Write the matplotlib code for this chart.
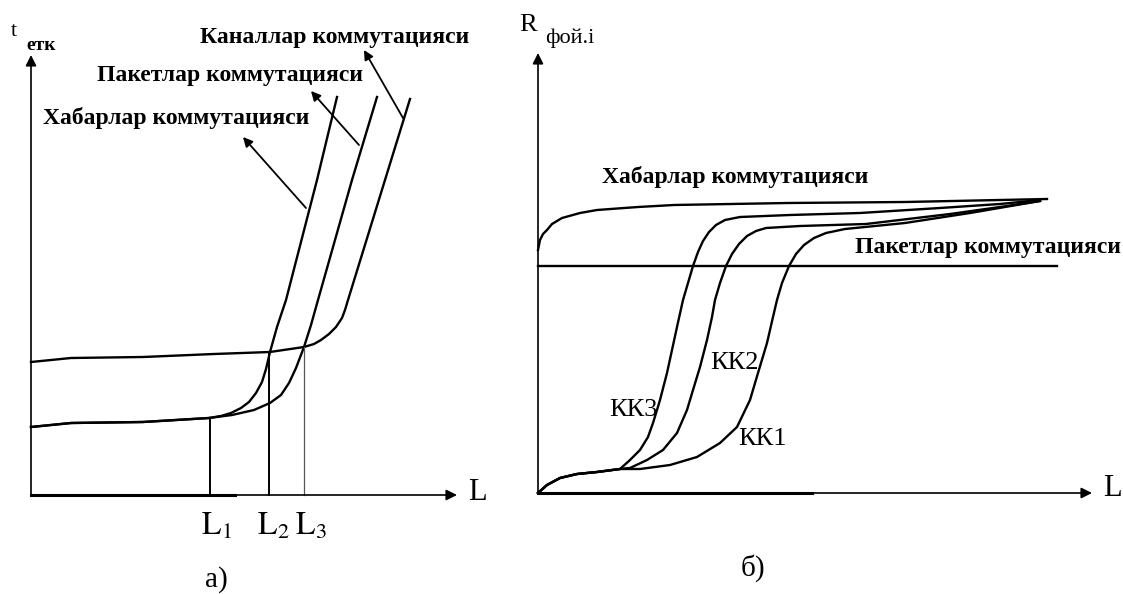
import matplotlib
matplotlib.use("Agg")
import matplotlib.pyplot as plt

plt.rcParams['mathtext.fontset'] = 'stix'

# ---- panel a): delay vs load (L, t) ----
kanal_L = [0, 40, 112, 183, 239, 273, 283, 290, 298, 305, 311, 314, 317, 354, 379]
kanal_t = [133, 137, 138, 141, 143, 148, 151, 155, 161, 168, 177, 185, 195, 315, 396]

paket_L = [0, 40, 112, 178, 201, 223, 239, 250, 258, 265, 273, 280, 287, 321, 346]
paket_t = [68, 72, 73, 77, 80, 85, 92, 100, 112, 127, 148, 170, 195, 315, 398]

xabar_L = [0, 40, 112, 178, 190, 200, 210, 218, 225, 231, 235, 239, 246, 255, 286, 306]
xabar_t = [68, 72, 73, 77, 79, 82, 87, 93, 102, 113, 126, 143, 168, 195, 315, 398]

marks_L = [179, 238, 273]
marks_t = [77, 143, 148]
marks_lbl = [r'$\mathrm{L}_1$', r'$\mathrm{L}_2$', r'$\mathrm{L}_3$']

# ---- panel б): R vs L ----
xab_R_L = [0, 2, 5, 9, 14, 24, 42, 59, 100, 136, 250, 367, 509]
xab_R_v = [243, 253, 259, 263, 269, 275, 280, 283, 286, 288, 290, 291, 294]

pak_R_L = [0, 519]
pak_R_v = [227, 227]

base_L = [0, 9, 22, 39, 59, 82]
base_v = [0, 8, 15, 19, 21, 24]

kk3_L = base_L + [92, 102, 110, 115, 119, 122, 129, 134, 139, 145, 150, 155, 160, 165, 171, 178, 187, 202, 252, 322, 402, 462, 502]
kk3_v = base_v + [33, 43, 56, 70, 83, 93, 120, 143, 166, 193, 210, 227, 241, 252, 261, 268, 273, 276, 278, 280, 285, 289, 293]

kk2_L = base_L + [92, 109, 125, 139, 149, 155, 162, 169, 174, 177, 182, 188, 194, 201, 209, 218, 228, 262, 328, 412, 462, 502]
kk2_v = base_v + [25, 33, 43, 60, 83, 103, 126, 153, 176, 193, 210, 227, 239, 249, 257, 262, 265, 267, 269, 279, 286, 292]

kk1_L = base_L + [102, 132, 159, 182, 199, 212, 220, 229, 235, 239, 244, 251, 258, 266, 276, 288, 307, 367, 432, 502]
kk1_v = base_v + [24, 28, 36, 50, 66, 93, 120, 150, 176, 193, 210, 227, 239, 248, 255, 260, 264, 270, 280, 292]

kk_lbl = ['КК3', 'КК2', 'КК1']

fig = plt.figure(figsize=(11.23, 5.94), dpi=100)
W, H = 1123, 594

serif = 'Liberation Serif'
lw_c = 1.7
arr = dict(arrowstyle='-|>', color='black', lw=1.2, mutation_scale=16, shrinkA=0, shrinkB=0)
arr2 = dict(arrowstyle='-|>', color='black', lw=1.3, mutation_scale=14, shrinkA=0, shrinkB=0)
bold_kw = dict(fontsize=17, ha='center', va='center', family=serif, weight='bold')

# left panel, origin at pixel (31, 495)
ax1 = fig.add_axes([0, 0, 520 / W, 1])
ax1.set_xlim(-31, 489)
ax1.set_ylim(-99, 495)
ax1.axis('off')

ax1.annotate('', xy=(0, 440), xytext=(0, 0), arrowprops=arr)
ax1.annotate('', xy=(426, 0), xytext=(0, 0), arrowprops=arr)
ax1.plot([0, 204], [0, 0], color='black', lw=2.2)

for xs, ys in [(kanal_L, kanal_t), (paket_L, paket_t), (xabar_L, xabar_t)]:
    ax1.plot(xs, ys, color='black', lw=lw_c, solid_joinstyle='round')

ax1.plot([marks_L[0]] * 2, [0, marks_t[0]], color='black', lw=1.4)
ax1.plot([marks_L[1]] * 2, [0, marks_t[1]], color='black', lw=1.4)
ax1.plot([marks_L[2]] * 2, [0, marks_t[2]], color='#555555', lw=0.9)

for x, s in zip([185, 242, 280], marks_lbl):
    ax1.text(x, -32, s, fontsize=23, ha='center', va='center', family=serif)

ax1.text(446, 2, 'L', fontsize=22, ha='center', va='center', family=serif)
ax1.text(-17, 463, 't', fontsize=16, ha='center', va='center', family=serif)
ax1.text(-5, 450, 'етк', fontsize=14, ha='left', va='center', family=serif, weight='bold')
ax1.text(185, -85, 'а)', fontsize=21, ha='center', va='center', family=serif)

ax1.annotate('', xy=(212, 358), xytext=(275, 287), arrowprops=arr2)
ax1.annotate('', xy=(280, 404), xytext=(328, 350), arrowprops=arr2)
ax1.annotate('', xy=(333, 445), xytext=(372, 377), arrowprops=arr2)

ax1.text(304, 458, 'Каналлар коммутацияси', **bold_kw)
ax1.text(199, 420, 'Пакетлар коммутацияси', **bold_kw)
ax1.text(145, 377, 'Хабарлар коммутацияси', **bold_kw)

# right panel, origin at pixel (538, 493)
ax2 = fig.add_axes([520 / W, 0, 603 / W, 1])
ax2.set_xlim(-18, 585)
ax2.set_ylim(-101, 493)
ax2.axis('off')

ax2.annotate('', xy=(0, 440), xytext=(0, 0), arrowprops=arr)
ax2.annotate('', xy=(554, 0), xytext=(0, 0), arrowprops=arr)
ax2.plot([0, 274], [0, 0], color='black', lw=2.2)

ax2.plot(xab_R_L, xab_R_v, color='black', lw=lw_c, solid_joinstyle='round')
ax2.plot(pak_R_L, pak_R_v, color='black', lw=lw_c)
for xs, ys in [(kk3_L, kk3_v), (kk2_L, kk2_v), (kk1_L, kk1_v)]:
    ax2.plot(xs, ys, color='black', lw=lw_c, solid_joinstyle='round')

for (x, y), s in zip([(95, 83), (196, 130), (224, 54)], kk_lbl):
    ax2.text(x, y, s, fontsize=19, ha='center', va='center', family=serif)

ax2.text(-10, 468, 'R', fontsize=19, ha='center', va='center', family=serif)
ax2.text(7, 455, 'фой.i', fontsize=16, ha='left', va='center', family=serif)
ax2.text(574, 5, 'L', fontsize=22, ha='center', va='center', family=serif)
ax2.text(215, -75, 'б)', fontsize=21, ha='center', va='center', family=serif)

ax2.text(197, 316, 'Хабарлар коммутацияси', **bold_kw)
ax2.text(450, 245, 'Пакетлар коммутацияси', **bold_kw)

fig.savefig('out.png', dpi=100)
